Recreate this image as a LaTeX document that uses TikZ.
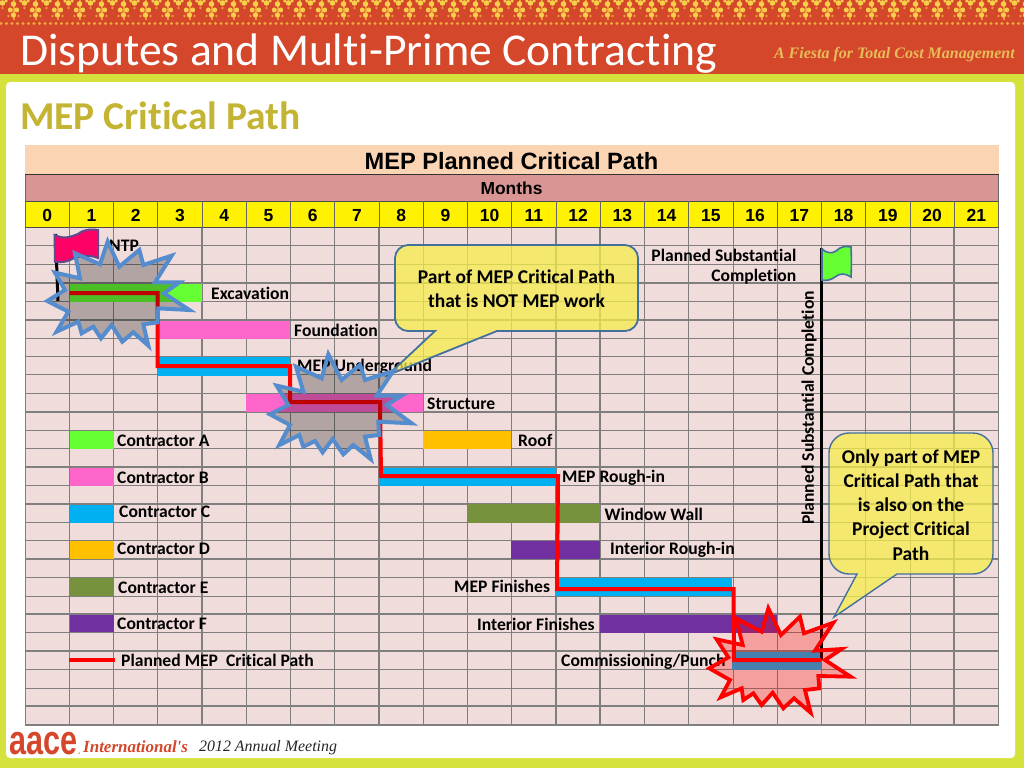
\documentclass[tikz,border=0pt]{standalone}
\usepackage{fontspec}
\setmainfont{Carlito}[Ligatures=NoCommon]
\newfontfamily\arialf{Liberation Sans}
\newfontfamily\timesf{Liberation Serif}
\definecolor{banner}{HTML}{D4472A}
\definecolor{lime}{HTML}{D5E23D}
\definecolor{headbg}{HTML}{FBD4B4}
\definecolor{monthbg}{HTML}{D99594}
\definecolor{bodybg}{HTML}{F0DCDB}
\definecolor{gridc}{HTML}{7F7F7F}
\definecolor{heading}{HTML}{C4B433}
\definecolor{contrA}{HTML}{66FF33}
\definecolor{contrB}{HTML}{FF66CC}
\definecolor{contrC}{HTML}{00B0F0}
\definecolor{contrD}{HTML}{FFC000}
\definecolor{contrE}{HTML}{76923C}
\definecolor{contrF}{HTML}{7030A0}
\definecolor{starblue}{HTML}{558CCD}
\definecolor{calloutfill}{HTML}{F7ED4C}
\definecolor{calloutline}{HTML}{41719C}
\definecolor{flagred}{HTML}{FF0066}
\definecolor{flagedge}{HTML}{5F4B8B}
\definecolor{orn}{HTML}{F7CE4A}
\definecolor{orndark}{HTML}{EC9A35}
\definecolor{fiesta}{HTML}{E8BC58}
\tikzset{
  lab/.style={anchor=west,inner sep=0pt,font=\fontsize{17.6}{20}\bfseries\selectfont,text=black},
  critical/.style={draw=red,line width=4pt,line join=miter},
  stargrey/.style={fill=black,fill opacity=.25},
  starpink/.style={fill=red,fill opacity=.27},
  starbluestyle/.style={draw=starblue,line width=4pt},
  starredstyle/.style={draw=red,line width=3.8pt},
  calloutstyle/.style={fill=calloutfill,fill opacity=.75,draw=calloutline,draw opacity=1},
  callouttext/.style={align=center,inner sep=0pt,font=\fontsize{19.5}{24.2}\bfseries\selectfont,text=black},
  monthnum/.style={anchor=base,inner sep=0pt,font=\arialf\fontsize{17.5}{20}\bfseries\selectfont,text=black},
}
\begin{document}
\begin{tikzpicture}[x=1pt,y=-1pt]
\useasboundingbox (0,0) rectangle (1024,768);
% page
\fill[lime] (0,0) rectangle (1024,768);
\fill[banner] (0,0) rectangle (1024,73.5);
\fill[white,rounded corners=4pt] (6,82) rectangle (1015,758);
% ornament
\foreach \i in {0,...,46}{
  \pgfmathsetmacro\mx{13.5+22*\i}
  \pgfmathsetmacro\nx{2.5+22*\i}
  \fill[orndark] (\mx-1,0) rectangle (\mx+1,20);
  \fill[orn] (\mx,4) circle (2.8);
  \fill[orn] (\mx-3.2,10) circle (2.5);
  \fill[orn] (\mx+3.2,10) circle (2.5);
  \fill[orn] (\mx,15) circle (2.7);
  \fill[orndark] (\mx-5,16) circle (1.4);
  \fill[orndark] (\mx+5,16) circle (1.4);
  \fill[orn] (\nx,3) circle (2.8);
  \fill[orn] (\nx-3.6,1) circle (1.8);
  \fill[orn] (\nx+3.6,1) circle (1.8);
  \fill[orndark] (\nx,8) circle (1.3);
}
\foreach \i in {0,...,186}{
  \fill[orndark!70!orn] (1+5.5*\i,23.5) circle (1.6);
}
% titles
\node[anchor=base west,inner sep=0pt,text=white,font=\fontsize{45.6}{50}\selectfont] (title) at (20,65) {Disputes and Multi-Prime Contracting};
\node[anchor=east,inner sep=0pt,text=fiesta,font=\timesf\fontsize{16}{19}\bfseries\itshape\selectfont] (motto) at (1015,55) {A Fiesta for Total Cost Management};
\node[anchor=base west,inner sep=0pt,text=heading,font=\fontsize{39.5}{44}\bfseries\selectfont] (heading) at (20,129) {MEP Critical Path};
% chart backgrounds
\fill[headbg] (25,145) rectangle (998.5,174.5);
\fill[monthbg] (25,174.5) rectangle (998.5,201);
\fill[yellow] (25,201) rectangle (998.5,227.5);
\fill[bodybg] (25,227.5) rectangle (998.5,725);
% body grid
\foreach \r in {1,...,26}{
  \pgfmathsetmacro\yy{227.5+\r*497.5/27}
  \draw[gridc,line width=1pt] (25,\yy) -- (998.5,\yy);
}
\foreach \yy in {283,320,412,467,504,559,614,651,706}{
  \draw[gridc,line width=1.8pt] (25,\yy) -- (998.5,\yy);
}
\foreach \c in {0,...,22}{
  \pgfmathsetmacro\xx{25+\c*44.25}
  \draw[gridc,line width=1pt] (\xx,227.5) -- (\xx,725);
}
\foreach \c in {4,8,12,13,21}{
  \pgfmathsetmacro\xx{25+\c*44.25}
  \draw[gridc,line width=1.8pt] (\xx,227.5) -- (\xx,725);
}
\draw[gridc,line width=1.4pt] (25,725) -- (998.5,725);
% header rows
\draw[black!80,line width=.8pt] (25,174.5) -- (998.5,174.5);
\draw[black!70,line width=.8pt] (25,201) -- (998.5,201);
\draw[black!70,line width=.8pt] (25,227.5) -- (998.5,227.5);
\foreach \c in {0,...,22}{
  \pgfmathsetmacro\xx{25+\c*44.25}
  \draw[black!60,line width=.8pt] (\xx,201) -- (\xx,227.5);
}
\draw[black!60,line width=.8pt] (25,174.5) -- (25,201) (998.5,174.5) -- (998.5,201);
\node[inner sep=0pt,font=\arialf\fontsize{23.6}{26}\bfseries\selectfont] (charttitle) at (511.5,161) {MEP Planned Critical Path};
\node[inner sep=0pt,font=\arialf\fontsize{17.4}{20}\bfseries\selectfont] (months) at (511.5,188.5) {Months};
\foreach \c in {0,...,21}{
  \pgfmathsetmacro\xx{25+(\c+.5)*44.25}
  \node[monthnum] (m\c) at (\xx,221) {\c};
}
% activity bars
\fill[contrA] (69.5,283.5) rectangle (201.5,301.5);
\fill[contrB] (157.5,320.5) rectangle (290,338.5);
\fill[contrC] (157.5,357) rectangle (290,375.5);
\fill[contrB] (246,394) rectangle (423,412);
\fill[contrD] (423,431) rectangle (511,449);
\fill[contrC] (379,467.5) rectangle (555.5,485.5);
\fill[contrE] (467,504) rectangle (600,522.5);
\fill[contrF] (511,541) rectangle (600,558.5);
\fill[contrC] (555.5,578) rectangle (732,596);
\fill[contrF] (600,614.5) rectangle (777,632.5);
\fill[contrC] (732,651.5) rectangle (821,669.5);
% legend swatches
\fill[contrA] (69.5,431) rectangle (113.5,449);
\fill[contrB] (69.5,468) rectangle (113.5,485.5);
\fill[contrC] (69.5,505) rectangle (113.5,522.5);
\fill[contrD] (69.5,541) rectangle (113.5,558.5);
\fill[contrE] (69.5,578) rectangle (113.5,595.5);
\fill[contrF] (69.5,615) rectangle (113.5,632);
\coordinate (legA) at (68.5,660);
\coordinate (legB) at (115,660);
\draw[critical] (legA) -- (legB);
% labels
\node[lab] (ntp) at (109,245.5) {NTP};
\node[lab] (excav) at (211,293.5) {Excavation};
\node[lab] (found) at (294,330) {Foundation};
\node[lab] (under) at (297,366.5) {MEP Underground};
\node[lab] (struct) at (427,404) {Structure};
\node[lab] (roof) at (518,440.5) {Roof};
\node[lab] (rough) at (562,477.5) {MEP Rough-in};
\node[lab] (wall) at (604.5,514) {Window Wall};
\node[lab] (intrough) at (610,549.5) {Interior Rough-in};
\node[lab] (finish) at (454,586) {MEP Finishes};
\node[lab] (intfin) at (477,624) {Interior Finishes};
\node[lab] (comm) at (561,661.5) {Commissioning/Punch};
\node[lab] (la) at (117,440.5) {Contractor A};
\node[lab] (lb) at (117,477.5) {Contractor B};
\node[lab] (lc) at (119,512) {Contractor C};
\node[lab] (ld) at (117,548.5) {Contractor D};
\node[lab] (le) at (118,587.5) {Contractor E};
\node[lab] (lf) at (117,624) {Contractor F};
\node[lab] (lp) at (121,660.5) {Planned MEP\ \ Critical Path};
\node[lab,anchor=east] (ps1) at (796.5,255) {Planned Substantial};
\node[lab,anchor=east] (ps2) at (796.5,276.5) {Completion};
\node[lab,anchor=center,rotate=90] (ps3) at (809,408) {Planned Substantial Completion};
% substantial completion line and flags
\coordinate (sctop) at (821.7,248);
\coordinate (scbot) at (821.7,660);
\draw[black,line width=2.8pt] (sctop) -- (scbot);
\coordinate (ntptop) at (55.5,234);
\coordinate (ntpbot) at (58,301);
\draw[black,line width=3pt] (ntptop) -- (ntpbot);
\draw[fill=flagred,draw=flagedge,line width=2pt]
  (54.5,235) .. controls (66,240) and (72,236) .. (78,234)
  .. controls (84,229) and (92,229) .. (98,230)
  .. controls (98.5,240) and (98,250) .. (98,258)
  .. controls (88,254) and (78,256) .. (70,260)
  .. controls (64,263) and (58,262) .. (55,262) -- cycle;
\draw[fill=contrA,draw=calloutline,line width=1.6pt]
  (822,249) .. controls (826,253) and (832,254) .. (836,251)
  .. controls (841,246) and (846,246) .. (851,247)
  .. controls (851.5,258) and (851.5,268) .. (851,277)
  .. controls (845,273) and (840,273) .. (835,277)
  .. controls (831,280) and (826,281) .. (822,280) -- cycle;
% critical path
\draw[critical] (69.5,293) -- (157.5,293) -- (157.5,366) -- (290,366) -- (290,402) -- (380,402) -- (381,476) -- (558,476) -- (557,589) -- (733.5,589) -- (734,660) -- (821,660);
% callouts
\draw[calloutstyle,line width=1.8pt]
  (408,245) -- (625,245) .. controls (632,245) and (638,251) .. (638,258)
  -- (638,318) .. controls (638,325) and (632,331) .. (625,331)
  -- (497,331) -- (388,375) -- (435,331) -- (408,331)
  .. controls (401,331) and (395,325) .. (395,318)
  -- (395,258) .. controls (395,251) and (401,245) .. (408,245) -- cycle;
\node[callouttext] (c1) at (516.5,288.5) {Part of MEP Critical Path\\that is NOT MEP work};
\draw[calloutstyle,line width=1.4pt]
  (849,433) -- (973,433) .. controls (984,433) and (993,442) .. (993,453)
  -- (993,554) .. controls (993,565) and (984,574) .. (973,574)
  -- (897,574) -- (834,617) -- (857,574) -- (849,574)
  .. controls (838,574) and (829,565) .. (829,554)
  -- (829,453) .. controls (829,442) and (838,433) .. (849,433) -- cycle;
\node[callouttext] (c2) at (911,505) {Only part of MEP\\Critical Path that\\is also on the\\Project Critical\\Path};
% starbursts
\def\burstA{(203,50)--(238,125)--(298,75)--(310,120)--(395,92)--(345,172)--(418,172)--(372,205)--(448,255)--(355,250)--(352,292)--(310,298)--(325,362)--(280,322)--(247,350)--(215,300)--(183,340)--(160,305)--(125,325)--(115,290)--(50,320)--(85,260)--(22,228)--(75,195)--(45,143)--(120,160)--(105,85)--(180,118)--cycle}
\def\burstB{(205,28)--(245,105)--(300,60)--(315,105)--(400,78)--(350,152)--(425,152)--(380,180)--(455,235)--(355,230)--(357,270)--(315,275)--(332,342)--(280,300)--(250,328)--(218,282)--(188,322)--(165,288)--(130,305)--(118,270)--(58,300)--(90,240)--(30,208)--(85,180)--(50,122)--(130,140)--(108,65)--(185,100)--cycle}
\def\burstC{(205,25)--(243,105)--(300,50)--(312,100)--(400,68)--(345,152)--(425,147)--(375,180)--(452,230)--(355,228)--(358,265)--(315,270)--(332,338)--(282,295)--(250,325)--(218,278)--(185,315)--(160,280)--(130,300)--(125,265)--(62,292)--(90,240)--(28,205)--(85,172)--(50,118)--(128,135)--(108,55)--(185,95)--cycle}
\begin{scope}[shift={(40,225)},scale=.3333]
\fill[stargrey] \burstA;
\draw[starbluestyle] \burstA;
\end{scope}
\begin{scope}[shift={(260,345)},scale=.3333]
\fill[stargrey] \burstB;
\draw[starbluestyle] \burstB;
\end{scope}
\begin{scope}[shift={(700,600)},scale=.3333]
\fill[starpink] \burstC;
\draw[starredstyle] \burstC;
\end{scope}
% footer
\node[anchor=west,inner sep=0pt,text=banner,font=\arialf\fontsize{30}{30}\bfseries\selectfont] (aace) at (9.5,744) {\scalebox{1.02}[1.38]{aace}{\color{orndark}\fontsize{10}{10}\selectfont.}};
\node[anchor=west,inner sep=0pt,text=banner,font=\timesf\fontsize{17}{20}\bfseries\itshape\selectfont] (intl) at (83,747) {International's};
\node[anchor=west,inner sep=0pt,text=black!85,font=\timesf\fontsize{15.9}{18}\itshape\selectfont] (meet) at (199,748) {2012 Annual Meeting};
\end{tikzpicture}
\end{document}
